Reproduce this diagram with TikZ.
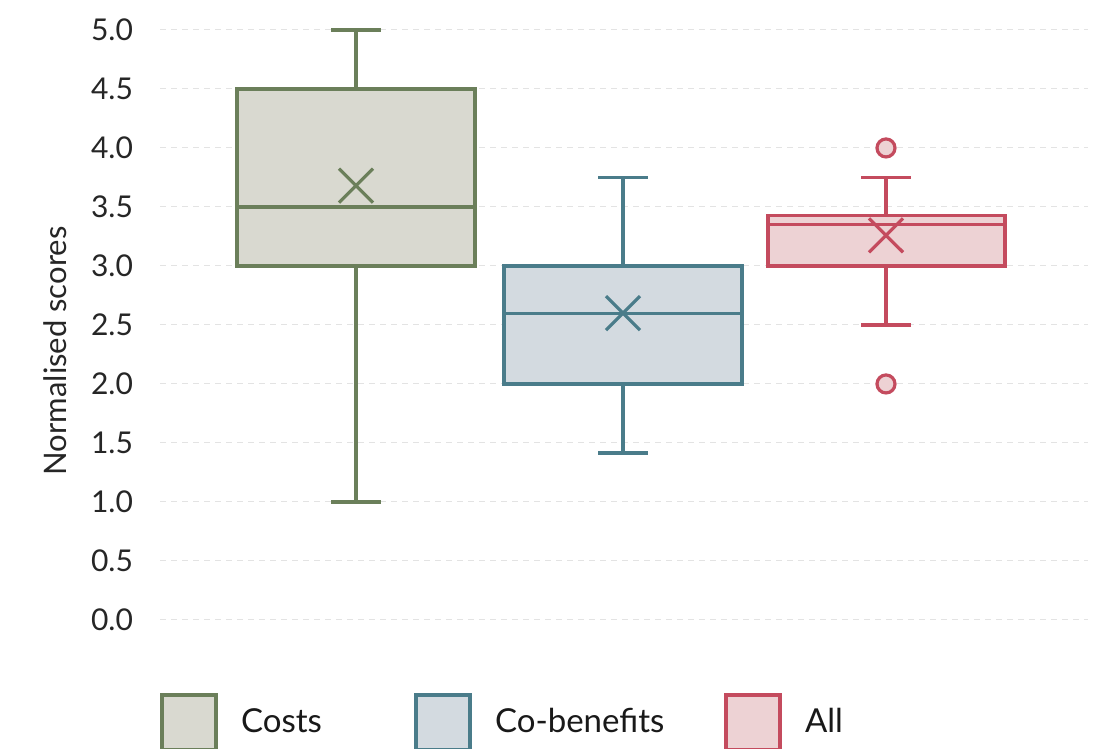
\documentclass[tikz,border=0pt]{standalone}
\usepackage{fontspec}
\setmainfont{Lato}
\definecolor{costline}{HTML}{6B7F5A}
\definecolor{costfill}{HTML}{D9D9D0}
\definecolor{cobline}{HTML}{4A7C8A}
\definecolor{cobfill}{HTML}{D3DAE0}
\definecolor{allline}{HTML}{C44B5E}
\definecolor{allfill}{HTML}{EDD2D4}
\tikzset{
  gridline/.style={gray!22,dash pattern=on 3pt off 2.5pt,line width=0.5pt},
  ticklabel/.style={anchor=east,font=\fontsize{15}{17}\selectfont,text=black!85},
  legendtext/.style={anchor=west,font=\fontsize{16.5}{19}\selectfont,text=black!90},
  costs/.style={draw=costline,fill=costfill,line width=1.6pt},
  cobens/.style={draw=cobline,fill=cobfill,line width=1.6pt},
  allbox/.style={draw=allline,fill=allfill,line width=1.6pt},
}
\begin{document}
\begin{tikzpicture}[x=0.5pt,y=59pt]
        \clip(0,-1.093)rectangle(1098,5.254);
        \fill[white](0,-1.093)rectangle(1098,5.254);
        % grid and ticks
        \foreach \v in {0.0,0.5,1.0,1.5,2.0,2.5,3.0,3.5,4.0,4.5,5.0}{
          \draw[gridline](160,\v)--(1088,\v);
          \node[ticklabel](t\v) at (140,\v){\v};
        }
        \node[rotate=90,font=\fontsize{15.5}{17}\selectfont,text=black!85](ylab) at (55,2.28){Normalised scores};
        % Costs
        \draw[costs](356,3.0)--(356,1.0)(331,1.0)--(381,1.0);
        \draw[costs](356,4.5)--(356,5.0)(331,5.0)--(381,5.0);
        \filldraw[costs](237,3.0)rectangle(475,4.5);
        \draw[costs](237,3.5)--(475,3.5);
        \draw[costs](339,3.824)--(373,3.536)(339,3.536)--(373,3.824);
        % Co-benefits
        \draw[cobens](623,2.0)--(623,1.415)(598,1.415)--(648,1.415);
        \draw[cobens](623,3.0)--(623,3.75)(598,3.75)--(648,3.75);
        \filldraw[cobens](504,2.0)rectangle(742,3.0);
        \draw[cobens](504,2.6)--(742,2.6);
        \draw[cobens](606,2.744)--(640,2.456)(606,2.456)--(640,2.744);
        % All
        \draw[allbox](886,3.0)--(886,2.5)(861,2.5)--(911,2.5);
        \draw[allbox](886,3.43)--(886,3.75)(861,3.75)--(911,3.75);
        \filldraw[allbox](768,3.0)rectangle(1005,3.43);
        \draw[allbox](768,3.35)--(1005,3.35);
        \draw[allbox](869,3.404)--(903,3.116)(869,3.116)--(903,3.404);
        \filldraw[allbox](886,4.0)circle(4.5pt);
        \filldraw[allbox](886,2.0)circle(4.5pt);
        % legend
        \filldraw[costs](162,-0.636)rectangle(216,-1.1);
        \node[legendtext](lcost) at (234,-0.85){Costs};
        \filldraw[cobens](416,-0.636)rectangle(470,-1.1);
        \node[legendtext](lcob) at (488,-0.85){Co-benefits};
        \filldraw[allbox](726,-0.636)rectangle(780,-1.1);
        \node[legendtext](lall) at (798,-0.85){All};
    \end{tikzpicture}
\end{document}
